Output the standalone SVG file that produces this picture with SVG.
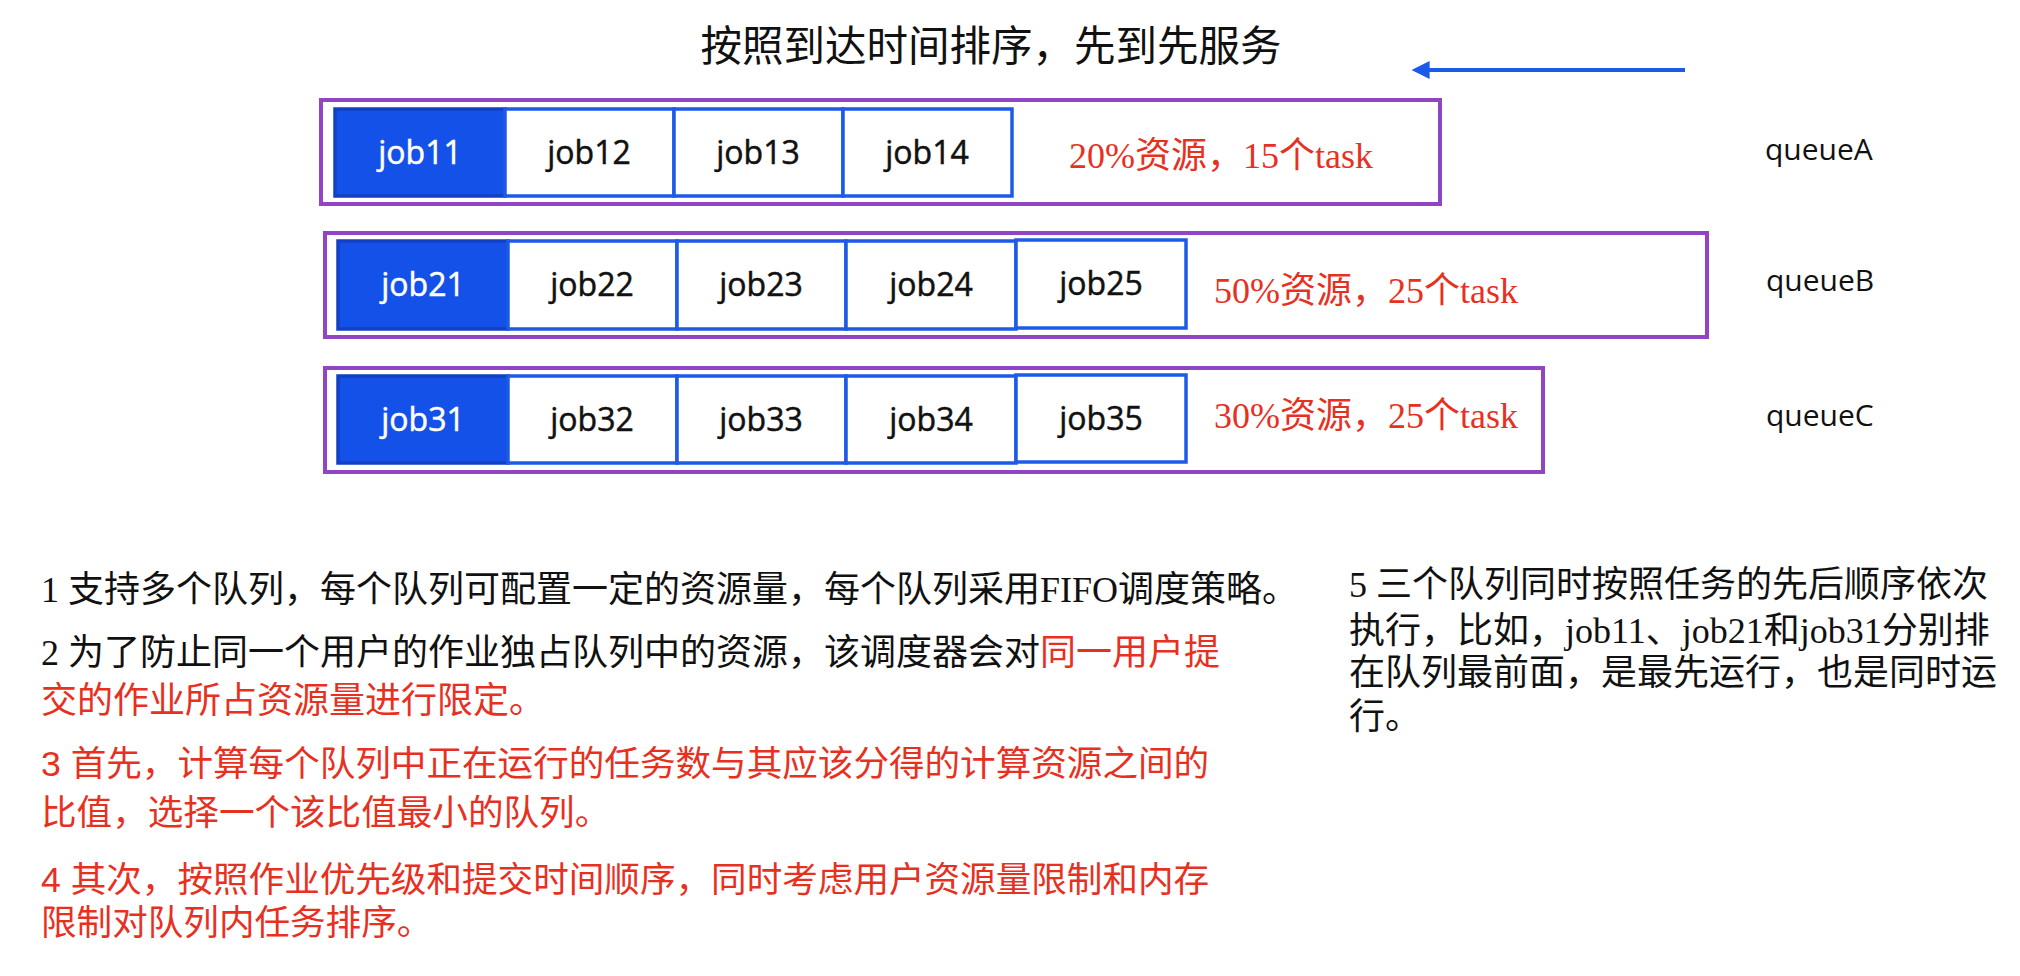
<svg xmlns="http://www.w3.org/2000/svg" width="2020" height="976" viewBox="0 0 2020 976">
<defs>
<style>
.bg{fill:#ffffff}
.queue{fill:#ffffff;stroke:#8f45c4;stroke-width:4}
.cell{fill:#ffffff;stroke:#1e5ae8;stroke-width:3.5}
.head{fill:#1451e8;stroke:#1240c4;stroke-width:3.5}
.job{font-family:"Open Sans","Lato",sans-serif;font-size:32px;fill:#111111;stroke:#111111;stroke-width:0.5;text-anchor:middle}
.jobw{fill:#ffffff;stroke:#ffffff}
.res{font-family:"Liberation Serif","Noto Sans CJK SC",serif;font-size:36px;fill:#e8301f}
.qname{font-family:"Open Sans","Lato",sans-serif;font-size:30px;fill:#111111}
.title{font-family:"Liberation Serif","Noto Sans CJK SC",serif;font-size:41.5px;fill:#111111;text-anchor:middle}
.note{font-family:"Liberation Serif","Noto Sans CJK SC",serif;font-size:36px;fill:#111111}
.noteR{font-family:"Liberation Sans","Noto Sans CJK SC",sans-serif;font-size:35.6px;fill:#e8301f}
.red{fill:#e8301f}
.arrow{stroke:#1e5ae8;stroke-width:4;fill:none}
</style>
<marker id="ah" viewBox="0 0 10 10" refX="2" refY="5" markerWidth="4.5" markerHeight="4.5" orient="auto-start-reverse" markerUnits="strokeWidth">
<path d="M0,0 L10,5 L0,10 Z" fill="#1e5ae8"/>
</marker>
</defs>
<rect class="bg" x="0" y="0" width="2020" height="976"/>

<g id="title">
<text class="title" x="991" y="61">按照到达时间排序，先到先服务</text>
</g>

<g id="connectors">
<line class="arrow" x1="1685" y1="70" x2="1426" y2="70" marker-end="url(#ah)"/>
</g>

<g id="queueA">
<rect class="queue" x="321" y="100" width="1119" height="104"/>
<g id="job11"><rect class="head" x="335" y="109" width="170" height="87"/><text class="job jobw" x="420" y="164">job11</text></g>
<g id="job12"><rect class="cell" x="505" y="109" width="169" height="87"/><text class="job" x="589" y="164">job12</text></g>
<g id="job13"><rect class="cell" x="674" y="109" width="169" height="87"/><text class="job" x="758" y="164">job13</text></g>
<g id="job14"><rect class="cell" x="843" y="109" width="169" height="87"/><text class="job" x="927" y="164">job14</text></g>
<text class="res" x="1069" y="168">20%资源，15个task</text>
</g>

<g id="queueB">
<rect class="queue" x="325" y="233" width="1382" height="104"/>
<g id="job21"><rect class="head" x="338" y="241" width="170" height="88"/><text class="job jobw" x="423" y="296">job21</text></g>
<g id="job22"><rect class="cell" x="508" y="241" width="169" height="88"/><text class="job" x="592" y="296">job22</text></g>
<g id="job23"><rect class="cell" x="677" y="241" width="169" height="88"/><text class="job" x="761" y="296">job23</text></g>
<g id="job24"><rect class="cell" x="846" y="241" width="170" height="88"/><text class="job" x="931" y="296">job24</text></g>
<g id="job25"><rect class="cell" x="1016" y="240" width="170" height="88"/><text class="job" x="1101" y="295">job25</text></g>
<text class="res" x="1214" y="303">50%资源，25个task</text>
</g>

<g id="queueC">
<rect class="queue" x="325" y="368" width="1218" height="104"/>
<g id="job31"><rect class="head" x="338" y="376" width="170" height="87"/><text class="job jobw" x="423" y="431">job31</text></g>
<g id="job32"><rect class="cell" x="508" y="376" width="169" height="87"/><text class="job" x="592" y="431">job32</text></g>
<g id="job33"><rect class="cell" x="677" y="376" width="169" height="87"/><text class="job" x="761" y="431">job33</text></g>
<g id="job34"><rect class="cell" x="846" y="376" width="170" height="87"/><text class="job" x="931" y="431">job34</text></g>
<g id="job35"><rect class="cell" x="1016" y="375" width="170" height="87"/><text class="job" x="1101" y="430">job35</text></g>
<text class="res" x="1214" y="428">30%资源，25个task</text>
</g>

<g id="labels">
<text class="qname" x="1765" y="160">queueA</text>
<text class="qname" x="1766" y="291">queueB</text>
<text class="qname" x="1766" y="426">queueC</text>
</g>

<g id="notes">
<text class="note" x="41" y="602">1 支持多个队列，每个队列可配置一定的资源量，每个队列采用FIFO调度策略。</text>
<text class="note" x="41" y="665">2 为了防止同一个用户的作业独占队列中的资源，该调度器会对<tspan class="red">同一用户提</tspan></text>
<text class="note red" x="41" y="713">交的作业所占资源量进行限定。</text>
<text class="noteR" x="41" y="776">3 首先，计算每个队列中正在运行的任务数与其应该分得的计算资源之间的</text>
<text class="noteR" x="41" y="825">比值，选择一个该比值最小的队列。</text>
<text class="noteR" x="41" y="892">4 其次，按照作业优先级和提交时间顺序，同时考虑用户资源量限制和内存</text>
<text class="noteR" x="41" y="935">限制对队列内任务排序。</text>
<text class="note" x="1349" y="597">5 三个队列同时按照任务的先后顺序依次</text>
<text class="note" x="1349" y="643">执行，比如，job11、job21和job31分别排</text>
<text class="note" x="1349" y="685">在队列最前面，是最先运行，也是同时运</text>
<text class="note" x="1349" y="729">行。</text>
</g>
</svg>
